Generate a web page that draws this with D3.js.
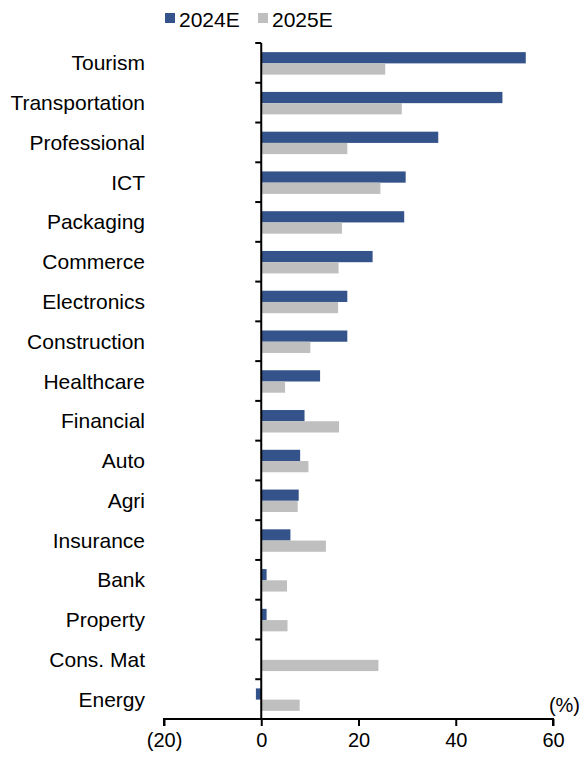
<!DOCTYPE html>
<html>
<head>
<meta charset="utf-8">
<script src="https://cdn.jsdelivr.net/npm/d3@7"></script>
<style>
  html, body { margin: 0; padding: 0; background: #fff; }
  svg { display: block; }
  text { font-family: "Liberation Sans", Arial, sans-serif; fill: #000; }
</style>
</head>
<body>
<svg id="chart" width="580" height="758"></svg>
<script>
// Sector growth estimates (%), two forecast years
const sectors = ["Tourism", "Transportation", "Professional", "ICT", "Packaging", "Commerce",
  "Electronics", "Construction", "Healthcare", "Financial", "Auto", "Agri", "Insurance",
  "Bank", "Property", "Cons. Mat", "Energy"];
const seriesNames = ["2024E", "2025E"];
const values2024 = [54.4, 49.6, 36.4, 29.7, 29.4, 22.9, 17.7, 17.7, 12.1, 8.9, 8.0, 7.7, 6.0, 1.1, 1.1, 0.0, -1.1];
const values2025 = [25.5, 28.9, 17.7, 24.5, 16.6, 15.9, 15.8, 10.1, 4.9, 16.0, 9.7, 7.5, 13.3, 5.3, 5.4, 24.1, 7.9];
const xTicks = [-20, 0, 20, 40, 60];
const colors = ["#34538A", "#BFBFBF"];

const svg = d3.select("#chart");
const labelSize = 21;
const tickSize = 20;

const x = d3.scaleLinear().domain([-20, 60]).range([164, 553]);
const y = d3.scaleBand().domain(sectors).range([43, 719]).paddingInner(0).paddingOuter(0);
const bw = y.bandwidth();
const ySub = d3.scaleBand().domain(seriesNames).range([bw * 0.23, bw * 0.795]).padding(0);

const rows = sectors.map((s, i) => ({ sector: s, vals: [values2024[i], values2025[i]] }));

// Bars
const groups = svg.append("g").selectAll("g")
  .data(rows).join("g")
  .attr("transform", d => `translate(0,${y(d.sector)})`);

groups.selectAll("rect")
  .data(d => d.vals.map((v, k) => ({ v, k })))
  .join("rect")
  .attr("x", d => x(Math.min(0, d.v)))
  .attr("width", d => Math.abs(x(d.v) - x(0)))
  .attr("y", d => ySub(seriesNames[d.k]))
  .attr("height", ySub.bandwidth())
  .attr("fill", d => colors[d.k]);

// Category labels
svg.append("g").selectAll("text")
  .data(sectors).join("text")
  .attr("x", 145)
  .attr("y", d => y(d) + bw / 2)
  .attr("text-anchor", "end")
  .attr("dominant-baseline", "central")
  .attr("font-size", labelSize)
  .text(d => d);

// Vertical axis at zero with ticks on category boundaries
const yAxisG = svg.append("g");
yAxisG.append("line")
  .attr("x1", x(0)).attr("x2", x(0))
  .attr("y1", 43).attr("y2", 719)
  .attr("stroke", "#000").attr("stroke-width", 2);
yAxisG.selectAll("line.tick")
  .data(sectors).join("line")
  .attr("class", "tick")
  .attr("x1", x(0) - 6).attr("x2", x(0))
  .attr("y1", d => y(d)).attr("y2", d => y(d))
  .attr("stroke", "#000").attr("stroke-width", 2);

// Horizontal value axis
const xAxis = d3.axisBottom(x)
  .tickValues(xTicks)
  .tickSize(7)
  .tickPadding(7)
  .tickFormat(v => v < 0 ? `(${Math.abs(v)})` : `${v}`);
const xAxisG = svg.append("g")
  .attr("transform", "translate(0,719)")
  .call(xAxis);
xAxisG.select(".domain").attr("stroke", "#000").attr("stroke-width", 2)
  .attr("d", `M${x(-20)},7V0H${x(60)}V7`);
xAxisG.selectAll(".tick line").attr("stroke", "#000").attr("stroke-width", 2);
xAxisG.selectAll(".tick text")
  .attr("font-size", tickSize)
  .attr("font-family", "'Liberation Sans', Arial, sans-serif")
  .attr("fill", "#000");

// Unit label
svg.append("text")
  .attr("x", 580).attr("y", 705)
  .attr("text-anchor", "end")
  .attr("dominant-baseline", "central")
  .attr("font-size", tickSize)
  .text("(%)");

// Legend
const legend = svg.append("g");
const legendItems = [{ name: seriesNames[0], x: 165 }, { name: seriesNames[1], x: 258 }];
legendItems.forEach((it, k) => {
  legend.append("rect")
    .attr("x", it.x).attr("y", 13)
    .attr("width", 10).attr("height", 10)
    .attr("fill", colors[k]);
  legend.append("text")
    .attr("x", it.x + 14).attr("y", 19)
    .attr("dominant-baseline", "central")
    .attr("font-size", labelSize)
    .text(it.name);
});
</script>
</body>
</html>
